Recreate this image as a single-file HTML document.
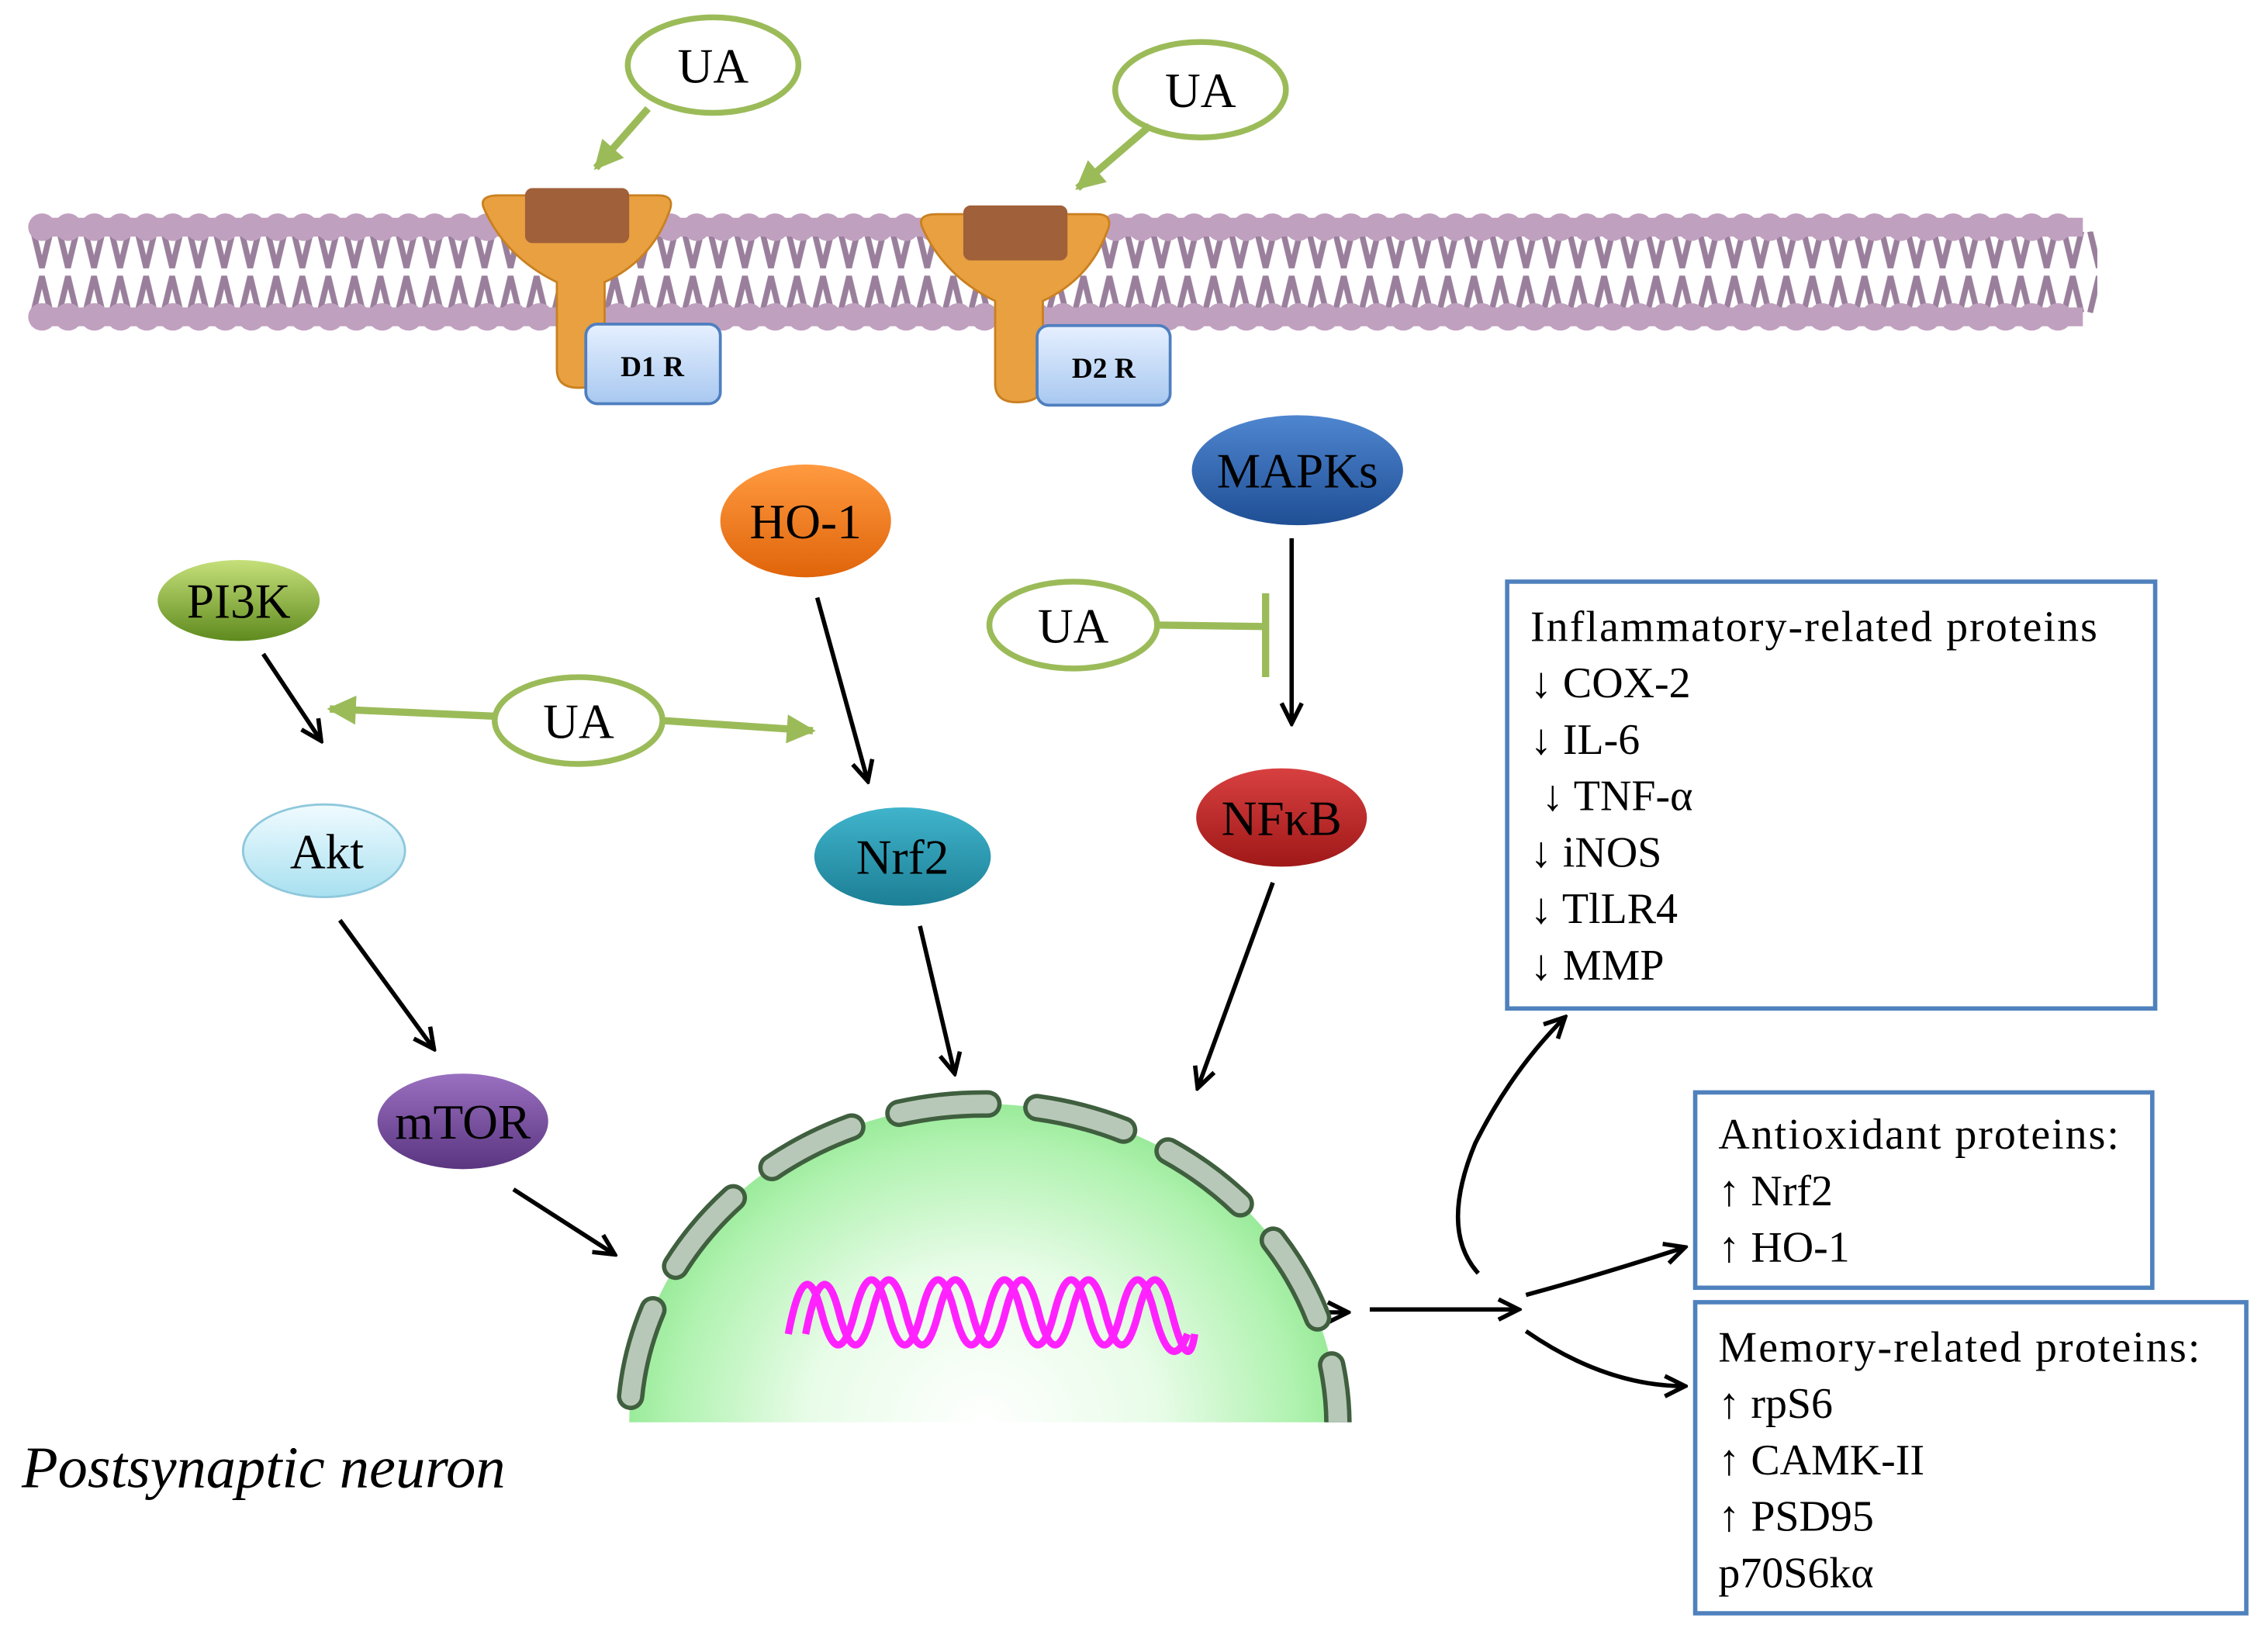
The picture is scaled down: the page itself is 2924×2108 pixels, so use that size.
<!DOCTYPE html>
<html><head><meta charset="utf-8"><style>
html,body{margin:0;padding:0;background:#fff;overflow:hidden;width:2924px;height:2108px;position:relative;}
svg{display:block;position:absolute;left:0;top:0;}
text{font-family:"Liberation Serif",serif;}
</style></head><body>
<svg width="2924" height="2108" viewBox="0 0 1568 1130" preserveAspectRatio="none" xmlns="http://www.w3.org/2000/svg">
<defs>
<marker id="abk" markerWidth="18" markerHeight="18" refX="16" refY="9" orient="auto" markerUnits="userSpaceOnUse" viewBox="0 0 18 18"><path d="M2,2 L16,9 L2,16" fill="none" stroke="#000" stroke-width="3"/></marker>
<marker id="ag" markerWidth="24" markerHeight="24" refX="20" refY="12" orient="auto" markerUnits="userSpaceOnUse" viewBox="0 0 24 24"><path d="M2,2 L22,12 L2,22 z" fill="#9bbb59"/></marker>
<radialGradient id="nuc" cx="0.5" cy="0.5" r="0.55"><stop offset="0" stop-color="#ffffff"/><stop offset="0.45" stop-color="#e8fce8"/><stop offset="0.8" stop-color="#b0f2b0"/><stop offset="1" stop-color="#88e488"/></radialGradient>
<linearGradient id="gP" x1="0" y1="0" x2="0" y2="1"><stop offset="0" stop-color="#c6e07a"/><stop offset="1" stop-color="#5e8a1e"/></linearGradient>
<linearGradient id="gH" x1="0" y1="0" x2="0" y2="1"><stop offset="0" stop-color="#ff9a40"/><stop offset="1" stop-color="#e0640a"/></linearGradient>
<linearGradient id="gM" x1="0" y1="0" x2="0" y2="1"><stop offset="0" stop-color="#4f86d0"/><stop offset="1" stop-color="#1f4f95"/></linearGradient>
<linearGradient id="gA" x1="0" y1="0" x2="0" y2="1"><stop offset="0" stop-color="#f0fbff"/><stop offset="1" stop-color="#a8e0f0"/></linearGradient>
<linearGradient id="gN" x1="0" y1="0" x2="0" y2="1"><stop offset="0" stop-color="#40b4cc"/><stop offset="1" stop-color="#1c7f95"/></linearGradient>
<linearGradient id="gF" x1="0" y1="0" x2="0" y2="1"><stop offset="0" stop-color="#d84040"/><stop offset="1" stop-color="#a01818"/></linearGradient>
<linearGradient id="gT" x1="0" y1="0" x2="0" y2="1"><stop offset="0" stop-color="#9a70c0"/><stop offset="1" stop-color="#5a3580"/></linearGradient>
<linearGradient id="gR" x1="0" y1="0" x2="0" y2="1"><stop offset="0" stop-color="#e6f0ff"/><stop offset="1" stop-color="#a8c8f0"/></linearGradient>
<pattern id="tails" x="20" y="0" width="18" height="80" patternUnits="userSpaceOnUse">
<path d="M3,160 L9,185 L15,160 M3,216 L9,191 L15,216" fill="none" stroke="#9a7f9c" stroke-width="4" transform="translate(0,-160)"/>
</pattern>
<clipPath id="nclip"><rect x="0" y="0" width="1568" height="983"/></clipPath>
</defs>

<rect x="20" y="160" width="1430" height="60" fill="url(#tails)"/>
<line x1="29" y1="157" x2="1440" y2="157" stroke="#c0a0bf" stroke-width="19" stroke-linecap="round" stroke-dasharray="0.1 18"/>
<line x1="29" y1="219" x2="1440" y2="219" stroke="#c0a0bf" stroke-width="19" stroke-linecap="round" stroke-dasharray="0.1 18"/>
<line x1="29" y1="157" x2="1440" y2="157" stroke="#c0a0bf" stroke-width="13"/>
<line x1="29" y1="219" x2="1440" y2="219" stroke="#c0a0bf" stroke-width="13"/>

<g>
<path d="M335,145 Q330,135 345,135 L455,135 Q468,135 462,148 Q450,180 418,195 L418,255 Q418,268 400,268 Q385,268 385,255 L385,195 Q350,178 335,145 z" fill="#e8a040" stroke="#c98020" stroke-width="1.5"/>
<rect x="363" y="130" width="72" height="38" rx="5" fill="#a0603a"/>
<rect x="405" y="224" width="93" height="55" rx="8" fill="url(#gR)" stroke="#4f7fbf" stroke-width="2"/>
<text x="451" y="260" font-size="20" font-weight="bold" text-anchor="middle">D1 R</text>
</g>
<g>
<path d="M638,158 Q633,148 648,148 L758,148 Q771,148 765,161 Q753,193 721,208 L721,265 Q721,278 703,278 Q688,278 688,265 L688,208 Q653,191 638,158 z" fill="#e8a040" stroke="#c98020" stroke-width="1.5"/>
<rect x="666" y="142" width="72" height="38" rx="5" fill="#a0603a"/>
<rect x="717" y="225" width="92" height="55" rx="8" fill="url(#gR)" stroke="#4f7fbf" stroke-width="2"/>
<text x="763" y="261" font-size="20" font-weight="bold" text-anchor="middle">D2 R</text>
</g>

<g fill="#fff" stroke="#9bbb59" stroke-width="4">
<ellipse cx="493" cy="45" rx="59" ry="33"/>
<ellipse cx="830" cy="62" rx="59" ry="33"/>
<ellipse cx="742" cy="432" rx="58" ry="30"/>
<ellipse cx="400" cy="498" rx="58" ry="30"/>
</g>
<g font-size="34" text-anchor="middle">
<text x="493" y="57">UA</text><text x="830" y="74">UA</text>
<text x="742" y="444">UA</text><text x="400" y="510">UA</text>
</g>
<g stroke="#9bbb59" stroke-width="5" fill="none">
<line x1="448" y1="75" x2="412" y2="116" marker-end="url(#ag)"/>
<line x1="795" y1="87" x2="745" y2="130" marker-end="url(#ag)"/>
<line x1="342" y1="495" x2="228" y2="490" marker-end="url(#ag)"/>
<line x1="458" y1="498" x2="562" y2="505" marker-end="url(#ag)"/>
<line x1="800" y1="432" x2="873" y2="433"/>
<line x1="875" y1="410" x2="875" y2="468"/>
</g>

<ellipse cx="165" cy="415" rx="56" ry="28" fill="url(#gP)"/>
<ellipse cx="557" cy="360" rx="59" ry="39" fill="url(#gH)"/>
<ellipse cx="897" cy="325" rx="73" ry="38" fill="url(#gM)"/>
<ellipse cx="224" cy="588" rx="56" ry="32" fill="url(#gA)" stroke="#8fc8dc" stroke-width="1.5"/>
<ellipse cx="624" cy="592" rx="61" ry="34" fill="url(#gN)"/>
<ellipse cx="886" cy="565" rx="59" ry="34" fill="url(#gF)"/>
<ellipse cx="320" cy="775" rx="59" ry="33" fill="url(#gT)"/>
<g font-size="34" text-anchor="middle">
<text x="165" y="427">PI3K</text><text x="557" y="372">HO-1</text>
<text x="897" y="337">MAPKs</text><text x="226" y="600">Akt</text>
<text x="624" y="604">Nrf2</text><text x="886" y="577">NFκB</text>
<text x="320" y="787">mTOR</text>
</g>

<g stroke="#000" stroke-width="3" fill="none" marker-end="url(#abk)">
<line x1="182" y1="452" x2="222" y2="512"/>
<line x1="565" y1="413" x2="600" y2="540"/>
<line x1="893" y1="372" x2="893" y2="500"/>
<line x1="235" y1="636" x2="300" y2="725"/>
<line x1="636" y1="640" x2="660" y2="742"/>
<line x1="880" y1="610" x2="828" y2="752"/>
<line x1="355" y1="822" x2="425" y2="867"/>
<line x1="828" y1="907" x2="932" y2="907"/>
<line x1="947" y1="905" x2="1050" y2="905"/>
<path d="M1022,880 Q995,850 1020,790 Q1045,740 1082,703"/>
<path d="M1055,895 Q1110,880 1165,862"/>
<path d="M1055,920 Q1110,958 1165,958"/>
</g>

<g clip-path="url(#nclip)">
<ellipse cx="680" cy="985" rx="245" ry="222" fill="url(#nuc)"/>
<path d="M435,985 A245,222 0 0 1 925,985" fill="none" stroke="#3f5f3f" stroke-width="19" stroke-dasharray="62 34" stroke-dashoffset="-20" stroke-linecap="round"/>
<path d="M435,985 A245,222 0 0 1 925,985" fill="none" stroke="#b8c8b8" stroke-width="13" stroke-dasharray="62 34" stroke-dashoffset="-20" stroke-linecap="round"/>
</g>
<g stroke="#ff22ff" stroke-width="5" fill="none">
<path d="M545,922 Q556.5,862 568,907 T591,907 T614,907 T637,907 T660,907 T683,907 T706,907 T729,907 T752,907 T775,907 T798,907 T821,922"/>
<path d="M557,922 Q568.5,862 580,907 T603,907 T626,907 T649,907 T672,907 T695,907 T718,907 T741,907 T764,907 T787,907 T810,907 T826,922"/>
</g>

<text x="15" y="1028" font-size="41" font-style="italic">Postsynaptic neuron</text>

<g fill="#fff" stroke="#4f81bd" stroke-width="3">
<rect x="1042" y="402" width="448" height="295"/>
<rect x="1172" y="755" width="316" height="135"/>
<rect x="1172" y="900" width="381" height="215"/>
</g>
<g font-size="30">
<text x="1058" y="443" textLength="392" lengthAdjust="spacing">Inflammatory-related proteins</text>
<text x="1058" y="482">↓ COX-2</text>
<text x="1058" y="521">↓ IL-6</text>
<text x="1066" y="560">↓ TNF-α</text>
<text x="1058" y="599">↓ iNOS</text>
<text x="1058" y="638">↓ TlLR4</text>
<text x="1058" y="677">↓ MMP</text>
<text x="1188" y="794" textLength="277" lengthAdjust="spacing">Antioxidant proteins:</text>
<text x="1188" y="833">↑ Nrf2</text>
<text x="1188" y="872">↑ HO-1</text>
<text x="1188" y="941" textLength="333" lengthAdjust="spacing">Memory-related proteins:</text>
<text x="1188" y="980">↑ rpS6</text>
<text x="1188" y="1019">↑ CAMK-II</text>
<text x="1188" y="1058">↑ PSD95</text>
<text x="1188" y="1097">p70S6kα</text>
</g>
</svg>
</body></html>
